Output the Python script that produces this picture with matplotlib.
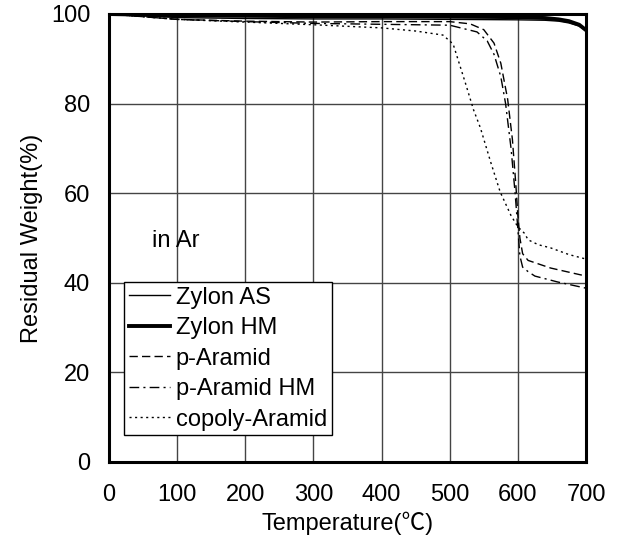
import matplotlib
matplotlib.use("Agg")
import matplotlib.pyplot as plt

plt.rcParams['font.family'] = ['Liberation Sans', 'Noto Sans CJK JP', 'DejaVu Sans']

# Zylon HM
t_zhm = [0, 100, 200, 300, 400, 500, 600, 640, 660, 675, 690, 700]
w_zhm = [100, 99.7, 99.6, 99.5, 99.5, 99.4, 99.3, 99.1, 98.8, 98.4, 97.6, 96.4]
# Zylon AS
t_zas = [0, 100, 200, 300, 400, 500, 600, 640, 660, 675, 690, 700]
w_zas = [100, 99.2, 99.0, 98.9, 98.9, 98.8, 98.7, 98.6, 98.4, 98.0, 97.3, 96.3]
# p-Aramid
t_pa = [0, 100, 200, 300, 400, 500, 530, 550, 565, 575, 585, 592, 597, 600, 603, 607, 615, 648, 700]
w_pa = [100, 98.8, 98.4, 98.2, 98.3, 98.3, 97.8, 96.5, 93.5, 89, 81, 72, 62, 55, 50, 46.5, 45, 43.3, 41.5]
# p-Aramid HM
t_pahm = [0, 100, 200, 300, 400, 500, 540, 555, 565, 575, 582, 590, 596, 600, 603, 607, 615, 625, 658, 700]
w_pahm = [100, 98.8, 98.3, 97.9, 97.7, 97.5, 96, 94, 91, 86, 80, 70, 60, 52, 46, 43.5, 42.5, 41.5, 40.2, 38.8]
# copoly-Aramid
t_co = [0, 100, 200, 300, 400, 450, 490, 505, 511, 523, 535, 545, 560, 574, 590, 600, 610, 615, 630, 648, 675, 700]
w_co = [100, 98.8, 98.2, 97.6, 96.9, 96.2, 95.3, 93.3, 90.4, 84.6, 78.6, 74.6, 67, 60.3, 55, 52.5, 51, 49.6, 48.5, 47.8, 46.3, 45.3]

x_ticks = [0, 100, 200, 300, 400, 500, 600, 700]
y_ticks = [0, 20, 40, 60, 80, 100]

FS = 17

fig = plt.figure(figsize=(6.19, 5.57), dpi=100)
ax = fig.add_axes([109/619, 1-462/557, 477/619, 448/557])

ax.plot(t_zas, w_zas, color='black', lw=1.0, label='Zylon AS')
ax.plot(t_zhm, w_zhm, color='black', lw=2.8, label='Zylon HM')
ax.plot(t_pa, w_pa, color='black', lw=1.0, ls=(0, (6, 3)), label='p-Aramid')
ax.plot(t_pahm, w_pahm, color='black', lw=1.0, ls=(0, (7, 3, 1.5, 3)), label='p-Aramid HM')
ax.plot(t_co, w_co, color='black', lw=1.0, ls=(0, (1.5, 2.5)), label='copoly-Aramid')

ax.set_xlim(0, 700)
ax.set_ylim(0, 100)
ax.set_xticks(x_ticks)
ax.set_yticks(y_ticks)
ax.grid(True, color='#444444', lw=1.0)
ax.set_axisbelow(True)
ax.tick_params(length=0, labelsize=FS)
ax.tick_params(axis='x', pad=16)
ax.tick_params(axis='y', pad=13.5)
for s in ax.spines.values():
    s.set_linewidth(2.2)

ax.set_xlabel('Temperature(℃)', fontsize=FS, labelpad=4)
ax.set_ylabel('Residual Weight(%)', fontsize=FS, labelpad=6)

ax.text(63, 49.3, 'in Ar', fontsize=FS, va='center', ha='left')

leg = ax.legend(loc='upper left', bbox_to_anchor=(0.031, 0.402), borderaxespad=0,
                fancybox=False, edgecolor='black', framealpha=1, fontsize=FS,
                handlelength=1.75, handletextpad=0.25, labelspacing=0.36,
                borderpad=0.2)
leg.get_frame().set_linewidth(1.0)

fig.savefig('out.png', dpi=100)
